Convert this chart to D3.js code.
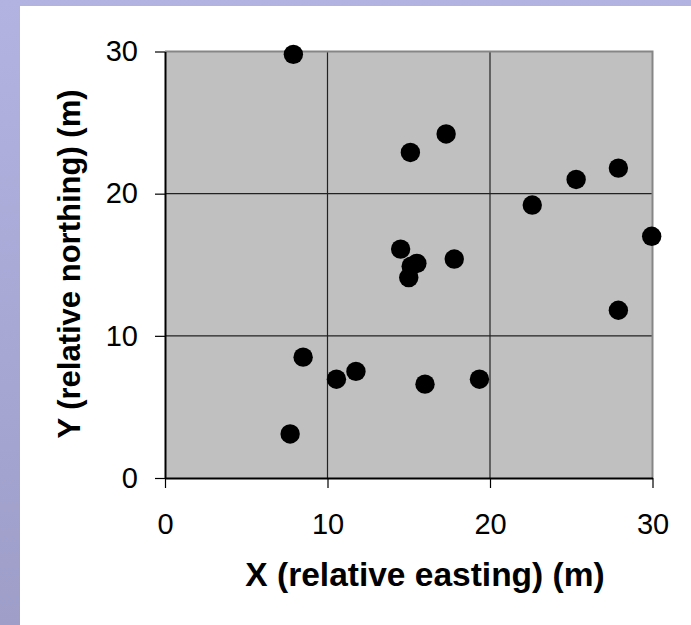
<!DOCTYPE html>
<html>
<head>
<meta charset="utf-8">
<script src="https://cdn.jsdelivr.net/npm/d3@7"></script>
<style>
  html, body { margin: 0; padding: 0; background: #fff; }
  svg { display: block; font-family: "Liberation Sans", Arial, sans-serif; }
</style>
</head>
<body>
<svg id="chart" width="691" height="625"></svg>
<script>
// point positions (metres)
const eastings  = [7.9, 17.3, 15.1, 22.6, 25.3, 27.9, 29.95, 14.5, 15.5, 15.15, 15.0, 17.8, 27.9, 8.5, 10.55, 11.75, 16.0, 19.35, 7.7];
const northings = [29.8, 24.2, 22.9, 19.2, 21.0, 21.8, 17.0, 16.1, 15.1, 14.9, 14.1, 15.4, 11.8, 8.5, 6.95, 7.5, 6.6, 6.95, 3.1];
const xTicks = [0, 10, 20, 30];
const yTicks = [0, 10, 20, 30];
const xTitle = 'X (relative easting) (m)';
const yTitle = 'Y (relative northing) (m)';

const svg = d3.select('#chart');
const plotL = 165, plotR = 652.5, plotT = 51.5, plotB = 478;

// slide background: purple band left and top, white panel
const grad = svg.append('defs').append('linearGradient')
  .attr('id', 'bg').attr('x1', 0).attr('y1', 0).attr('x2', 0).attr('y2', 1);
grad.append('stop').attr('offset', '0%').attr('stop-color', '#b3b3e2');
grad.append('stop').attr('offset', '100%').attr('stop-color', '#9e9ec9');
svg.append('rect').attr('width', 691).attr('height', 625).attr('fill', 'url(#bg)');
svg.append('rect').attr('x', 20).attr('y', 6).attr('width', 671).attr('height', 619).attr('fill', '#fff');

const x = d3.scaleLinear().domain([0, 30]).range([plotL, plotR]);
const y = d3.scaleLinear().domain([0, 30]).range([plotB, plotT]);

// plot area
svg.append('rect')
  .attr('x', plotL).attr('y', plotT)
  .attr('width', plotR - plotL).attr('height', plotB - plotT)
  .attr('fill', '#c0c0c0');

// grid
const grid = svg.append('g').attr('stroke', '#222').attr('stroke-width', 1.2);
grid.selectAll('.vg').data(xTicks.slice(1, -1)).enter().append('line')
  .attr('x1', d => x(d)).attr('x2', d => x(d))
  .attr('y1', plotT).attr('y2', plotB);
grid.selectAll('.hg').data(yTicks.slice(1, -1)).enter().append('line')
  .attr('y1', d => y(d)).attr('y2', d => y(d))
  .attr('x1', plotL).attr('x2', plotR);

// gray border top and right
svg.append('path')
  .attr('d', `M${plotL},${plotT}H${plotR}V${plotB}`)
  .attr('fill', 'none').attr('stroke', '#868686').attr('stroke-width', 2);

// axes
const xAxis = svg.append('g')
  .attr('transform', `translate(0,${plotB})`)
  .call(d3.axisBottom(x).tickValues(xTicks).tickSize(10).tickSizeOuter(0).tickPadding(25).tickFormat(d3.format('d')));
const yAxis = svg.append('g')
  .attr('transform', `translate(${plotL},0)`)
  .call(d3.axisLeft(y).tickValues(yTicks).tickSize(10).tickSizeOuter(0).tickPadding(17).tickFormat(d3.format('d')));

[xAxis, yAxis].forEach(a => {
  a.select('.domain').attr('stroke', '#000').attr('stroke-width', 2);
  a.selectAll('.tick line').attr('stroke', '#000').attr('stroke-width', 1.2);
  a.selectAll('.tick text')
    .attr('fill', '#000')
    .style('font-size', '29px')
    .style('font-family', '"Liberation Sans", Arial, sans-serif');
});

// points
svg.append('g').selectAll('circle')
  .data(eastings.map((e, i) => [e, northings[i]]))
  .enter().append('circle')
  .attr('cx', d => x(d[0]))
  .attr('cy', d => y(d[1]))
  .attr('r', 9.7)
  .attr('fill', '#000');

// titles
svg.append('text')
  .attr('x', 425).attr('y', 586)
  .attr('text-anchor', 'middle')
  .style('font-size', '33.5px').style('font-weight', 'bold')
  .text(xTitle);
svg.append('text')
  .attr('transform', 'translate(80,264) rotate(-90)')
  .attr('text-anchor', 'middle')
  .style('font-size', '31px').style('font-weight', 'bold')
  .text(yTitle);
</script>
</body>
</html>
